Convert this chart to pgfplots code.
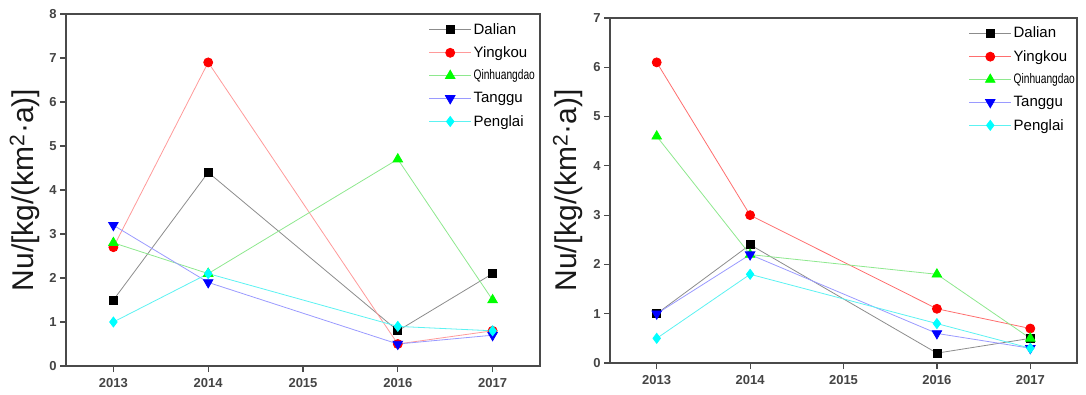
\documentclass[border=0pt]{standalone}
\usepackage{fontspec}
\setmainfont{Liberation Sans}
\usepackage{pgfplots}
\pgfplotsset{compat=1.18}
\definecolor{axisgray}{HTML}{4A4A4A}
\definecolor{ticktext}{HTML}{444444}
\definecolor{mblack}{HTML}{000000}
\definecolor{mred}{HTML}{FF0000}
\definecolor{mgreen}{HTML}{00FF00}
\definecolor{mblue}{HTML}{0000FF}
\definecolor{mcyan}{HTML}{00FFFF}
\definecolor{lgray}{HTML}{8C8C8C}
\definecolor{lred}{HTML}{FF9A9A}
\definecolor{lredR}{HTML}{FF6E6E}
\definecolor{lgreen}{HTML}{8EE88E}
\definecolor{lblue}{HTML}{9A9AFF}
\definecolor{lcyan}{HTML}{5CF2F2}
\pgfplotsset{
  mystyle/.style={
    scale only axis,
    xmin=2012.5, xmax=2017.5,
    xtick={2013,2014,2015,2016,2017},
    xticklabels={2013,2014,2015,2016,2017},
    tick align=outside,
    xtick pos=bottom, ytick pos=left,
    major tick length=6pt,
    tick style={line width=1.2pt, color=axisgray},
    axis line style={line width=1.5pt, color=axisgray},
    /pgf/number format/assume math mode=true,
    ticklabel style={font=\fontsize{13}{15}\selectfont\bfseries, color=ticktext},
    xticklabel style={yshift=-3pt},
    ylabel={Nu/[kg/(km\textsuperscript{2}·a)]},
    ylabel style={font=\fontsize{30}{36}\selectfont, anchor=center, color=black!90},
    legend cell align=left,
    legend style={draw=none, fill=none, font=\fontsize{15}{17}\selectfont, anchor=north west, row sep=7pt, inner sep=0pt},
    legend image code/.code={\draw[mark repeat=2,mark phase=2,#1] plot coordinates {(0pt,0pt) (21pt,0pt) (42pt,0pt)};},
  },
  dalian/.style={color=lgray, line width=0.8pt, mark=square*, mark size=4pt, mark options={fill=mblack, draw=mblack}},
  yingkou/.style={color=lred, line width=0.8pt, mark=*, mark size=4.5pt, mark options={fill=mred, draw=mred}},
  yingkouR/.style={color=lredR, line width=0.8pt, mark=*, mark size=4.5pt, mark options={fill=mred, draw=mred}},
  qinhuang/.style={color=lgreen, line width=0.8pt, mark=triangle*, mark size=5.5pt, mark options={fill=mgreen, draw=mgreen}},
  tanggu/.style={color=lblue, line width=0.8pt, mark=triangle*, mark size=5.5pt, mark options={fill=mblue, draw=mblue, rotate=180}},
  penglai/.style={color=lcyan, line width=0.8pt, mark=diamond*, mark size=5pt, mark options={fill=mcyan, draw=mcyan}},
}
\begin{document}
\begin{tikzpicture}[x=1pt,y=1pt]
\path[use as bounding box] (0,0) rectangle (1086,394);
\begin{axis}[mystyle,
  at={(66pt,28pt)}, anchor=south west,
  width=474pt, height=352pt,
  ymin=0, ymax=8, ytick={0,1,...,8},
  ylabel style={at={(axis description cs:-0.087,0.5)}},
  legend style={at={(axis description cs:0.765,0.98)}},
]
\addplot[dalian] coordinates {(2013,1.5) (2014,4.4) (2016,0.8) (2017,2.1)};
\addlegendentry{Dalian}
\addplot[yingkou] coordinates {(2013,2.7) (2014,6.9) (2016,0.5) (2017,0.8)};
\addlegendentry{Yingkou}
\addplot[qinhuang] coordinates {(2013,2.8) (2014,2.1) (2016,4.7) (2017,1.5)};
\addlegendentry{\scalebox{0.68}[0.92]{Qinhuangdao}}
\addplot[tanggu] coordinates {(2013,3.2) (2014,1.9) (2016,0.5) (2017,0.7)};
\addlegendentry{Tanggu}
\addplot[penglai] coordinates {(2013,1.0) (2014,2.1) (2016,0.9) (2017,0.8)};
\addlegendentry{Penglai}
\end{axis}
\begin{axis}[mystyle,
  at={(610pt,31pt)}, anchor=south west,
  width=467pt, height=345pt,
  ymin=0, ymax=7, ytick={0,1,...,7},
  ylabel style={at={(axis description cs:-0.09,0.5)}},
  legend style={at={(axis description cs:0.768,0.98)}},
]
\addplot[dalian] coordinates {(2013,1.0) (2014,2.4) (2016,0.2) (2017,0.5)};
\addlegendentry{Dalian}
\addplot[yingkouR] coordinates {(2013,6.1) (2014,3.0) (2016,1.1) (2017,0.7)};
\addlegendentry{Yingkou}
\addplot[qinhuang] coordinates {(2013,4.6) (2014,2.2) (2016,1.8) (2017,0.5)};
\addlegendentry{\scalebox{0.68}[0.92]{Qinhuangdao}}
\addplot[tanggu] coordinates {(2013,1.0) (2014,2.2) (2016,0.6) (2017,0.3)};
\addlegendentry{Tanggu}
\addplot[penglai] coordinates {(2013,0.5) (2014,1.8) (2016,0.8) (2017,0.3)};
\addlegendentry{Penglai}
\end{axis}
\end{tikzpicture}
\end{document}
